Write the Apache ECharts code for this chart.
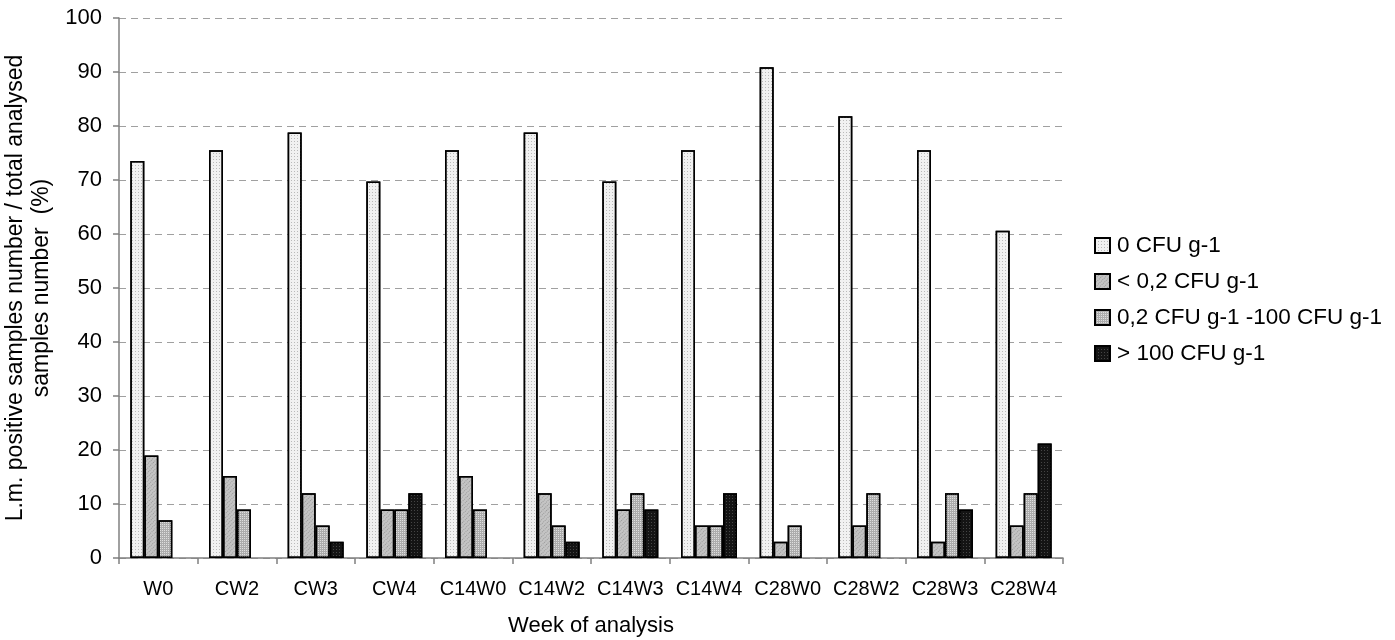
<!DOCTYPE html>
<html>
<head>
<meta charset="utf-8">
<script src="https://cdn.jsdelivr.net/npm/echarts@6/dist/echarts.min.js"></script>
<style>html,body{margin:0;padding:0;background:#fff}#c{width:1395px;height:640px}</style>
</head>
<body>
<div id="c"></div>
<script>
const categories = ['W0','CW2','CW3','CW4','C14W0','C14W2','C14W3','C14W4','C28W0','C28W2','C28W3','C28W4'];
const seriesNames = ['0 CFU g-1','< 0,2 CFU g-1','0,2 CFU g-1 -100 CFU g-1','> 100 CFU g-1'];
const zeroCFU   = [73.5, 75.5, 78.8, 69.7, 75.5, 78.8, 69.7, 75.5, 90.9, 81.8, 75.5, 60.6];
const lowCFU    = [19.0, 15.2, 12.0,  9.0, 15.2, 12.0,  9.0,  6.0,  3.0,  6.0,  3.0,  6.0];
const midCFU    = [ 7.0,  9.0,  6.0,  9.0,  9.0,  6.0, 12.0,  6.0,  6.0, 12.0, 12.0, 12.0];
const highCFU   = [ 0,    0,    3.0, 12.0,  0,    3.0,  9.0, 12.0,  0,    0,    9.0, 21.2];
const yTicks = [0,10,20,30,40,50,60,70,80,90,100];

const fills = ['#f1f1f1', '#c4c4c4', '#acacac', '#141414'];
const decals = [
  {symbol:'rect', symbolSize:1, color:'rgba(150,150,150,0.6)', dashArrayX:[1,2], dashArrayY:[1,2], rotation:0},
  {symbol:'rect', symbolSize:1, color:'rgba(110,110,110,0.5)', dashArrayX:[1,2], dashArrayY:[1,1], rotation:Math.PI/4},
  {symbol:'rect', symbolSize:1, color:'rgba(255,255,255,0.6)', dashArrayX:[1,1], dashArrayY:[1,1], rotation:0},
  {symbol:'rect', symbolSize:1, color:'rgba(90,90,90,0.7)', dashArrayX:[1,2], dashArrayY:[1,2], rotation:0}
];
const dataSets = [zeroCFU, lowCFU, midCFU, highCFU];

const chart = echarts.init(document.getElementById('c'), null, {renderer:'canvas'});
const FONT = 'Liberation Sans, Arial, sans-serif';
chart.setOption({
  animation: false,
  aria: {enabled: true, decal: {show: true}},
  textStyle: {fontFamily: FONT, color: '#000'},
  grid: {left: 119, right: 332, top: 18, bottom: 82, containLabel: false, outerBoundsMode: 'none'},
  legend: {
    orient: 'vertical', left: 1089, top: 229,
    itemWidth: 15, itemHeight: 15, itemGap: 13,
    textStyle: {fontFamily: FONT, fontSize: 22.5, color: '#000', padding: [0,0,0,2]},
    data: seriesNames.map((n) => ({name: n, icon: 'rect'}))
  },
  xAxis: {
    type: 'category', data: categories,
    name: 'Week of analysis', nameLocation: 'middle', nameGap: 57,
    nameTextStyle: {fontFamily: FONT, fontSize: 22, color: '#000', verticalAlign: 'top'},
    axisLine: {lineStyle: {color: '#808080', width: 1.5}},
    axisTick: {show: true, length: 6, lineStyle: {color: '#808080', width: 1.5}},
    axisLabel: {fontFamily: FONT, fontSize: 20, color: '#000', margin: 21, interval: 0}
  },
  yAxis: {
    type: 'value', min: 0, max: 100, interval: 10,
    name: 'L.m. positive samples number / total analysed\nsamples number  (%)',
    nameLocation: 'middle', nameGap: 54,
    nameTextStyle: {fontFamily: FONT, fontSize: 23, color: '#000', lineHeight: 26},
    axisLine: {show: true, lineStyle: {color: '#808080', width: 1.5}},
    axisTick: {show: true, length: 6, lineStyle: {color: '#808080', width: 1.5}},
    axisLabel: {fontFamily: FONT, fontSize: 22, color: '#000', margin: 17,
      formatter: v => yTicks.includes(v) ? String(v) : ''},
    splitLine: {show: true, lineStyle: {color: '#a0a0a0', width: 1, type: [7,5]}}
  },
  series: dataSets.map((d, i) => ({
    name: seriesNames[i], type: 'bar',
    data: d.map(v => v === 0 ? '-' : v),
    barWidth: 14, barGap: '0%',
    itemStyle: {color: fills[i], borderColor: '#000', borderWidth: 1.5, decal: decals[i]}
  }))
});
</script>
</body>
</html>
